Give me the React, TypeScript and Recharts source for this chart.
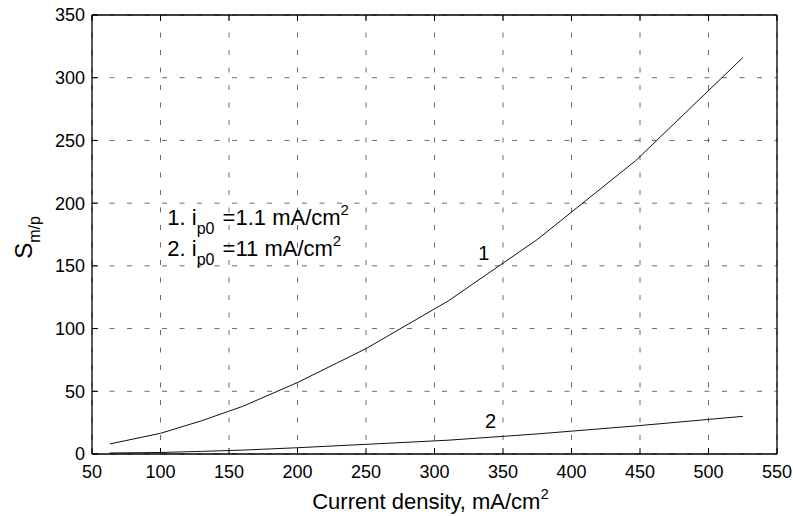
import {
  CartesianGrid,
  Label,
  Line,
  LineChart,
  ReferenceDot,
  XAxis,
  YAxis,
} from "recharts";

// current density, mA/cm2
const density = [63, 100, 130, 160, 200, 250, 310, 375, 447, 525];
// curve 1: i_p0 = 1.1 mA/cm2
const curve1 = [8, 16.5, 26.5, 38, 57, 84, 122, 171, 234, 316];
// curve 2: i_p0 = 11 mA/cm2
const curve2 = [0.8, 1.2, 2.1, 3.1, 5, 7.7, 11, 16, 22.4, 30];

const xTicks = [50, 100, 150, 200, 250, 300, 350, 400, 450, 500, 550];
const yTicks = [0, 50, 100, 150, 200, 250, 300, 350];

const notes = [
  { x: 105, y: 182.5, num: "1. i", value: " =1.1 mA/cm" },
  { x: 105, y: 158, num: "2. i", value: " =11 mA/cm" },
];
const curveTags = [
  { x: 336, y: 155, text: "1" },
  { x: 341, y: 20.5, text: "2" },
];

const data = density.map((x, i) => ({ x, s1: curve1[i], s2: curve2[i] }));

const FONT = "'Liberation Sans', Arial, sans-serif";
const tickStyle = { fill: "#000", fontSize: 18, fontFamily: FONT };

function XTitle(props: any) {
  const { x, y, width } = props.viewBox;
  return (
    <text x={x + width / 2 - 4} y={y + 55} textAnchor="middle" fontSize={22} fontFamily={FONT} fill="#000">
      <tspan>Current density, mA/cm</tspan>
      <tspan dy={-10} fontSize={15}>2</tspan>
    </text>
  );
}

function YTitle(props: any) {
  const { y, height } = props.viewBox;
  const cx = 32;
  const cy = y + height / 2 + 3;
  return (
    <text x={cx} y={cy} transform={`rotate(-90, ${cx}, ${cy})`} textAnchor="middle" fontSize={24} fontFamily={FONT} fill="#000">
      <tspan>S</tspan>
      <tspan dy={8} fontSize={16}>m/p</tspan>
    </text>
  );
}

function noteShape(note: (typeof notes)[number]) {
  return (props: any) => (
    <text x={props.cx} y={props.cy} fontSize={22} fontFamily={FONT} fill="#000">
      <tspan>{note.num}</tspan>
      <tspan dy={9} fontSize={16}>p0</tspan>
      <tspan dy={-9} dx={2}>{note.value}</tspan>
      <tspan dy={-10} fontSize={15}>2</tspan>
    </text>
  );
}

function tagShape(text: string) {
  return (props: any) => (
    <text x={props.cx} y={props.cy} textAnchor="middle" fontSize={20} fontFamily={FONT} fill="#000">
      {text}
    </text>
  );
}

export default function App() {
  return (
    <div style={{ position: "absolute", left: 0, top: 0, background: "#fff" }}>
      <LineChart width={793} height={517} data={data} margin={{ top: 0, right: 0, bottom: 0, left: 0 }}>
        <CartesianGrid stroke="#444" strokeWidth={0.8} strokeDasharray="5 12.5" />
        <XAxis
          dataKey="x"
          type="number"
          domain={[50, 550]}
          ticks={xTicks}
          height={63}
          tickSize={-6}
          tickMargin={17}
          tick={tickStyle}
          axisLine={{ stroke: "#000", strokeWidth: 1.3 }}
          tickLine={{ stroke: "#000" }}
          interval={0}
        >
          <Label content={XTitle} />
        </XAxis>
        <XAxis
          xAxisId="top"
          orientation="top"
          dataKey="x"
          type="number"
          domain={[50, 550]}
          ticks={xTicks}
          height={15}
          tickSize={-6}
          tickFormatter={() => ""}
          axisLine={{ stroke: "#000", strokeWidth: 1.3 }}
          tickLine={{ stroke: "#000" }}
          interval={0}
        />
        <YAxis
          type="number"
          domain={[0, 350]}
          ticks={yTicks}
          width={92}
          tickSize={-6}
          tickMargin={13}
          tick={tickStyle}
          axisLine={{ stroke: "#000", strokeWidth: 1.3 }}
          tickLine={{ stroke: "#000" }}
          interval={0}
        >
          <Label content={YTitle} />
        </YAxis>
        <YAxis
          yAxisId="right"
          orientation="right"
          type="number"
          domain={[0, 350]}
          ticks={yTicks}
          width={16}
          tickSize={-6}
          tickFormatter={() => ""}
          axisLine={{ stroke: "#000", strokeWidth: 1.3 }}
          tickLine={{ stroke: "#000" }}
          interval={0}
        />
        <Line dataKey="s1" stroke="#111" strokeWidth={1} dot={false} isAnimationActive={false} />
        <Line dataKey="s2" stroke="#111" strokeWidth={1} dot={false} isAnimationActive={false} />
        {notes.map((n) => (
          <ReferenceDot key={n.num} x={n.x} y={n.y} r={0} shape={noteShape(n)} />
        ))}
        {curveTags.map((t) => (
          <ReferenceDot key={t.text} x={t.x} y={t.y} r={0} shape={tagShape(t.text)} />
        ))}
      </LineChart>
    </div>
  );
}
